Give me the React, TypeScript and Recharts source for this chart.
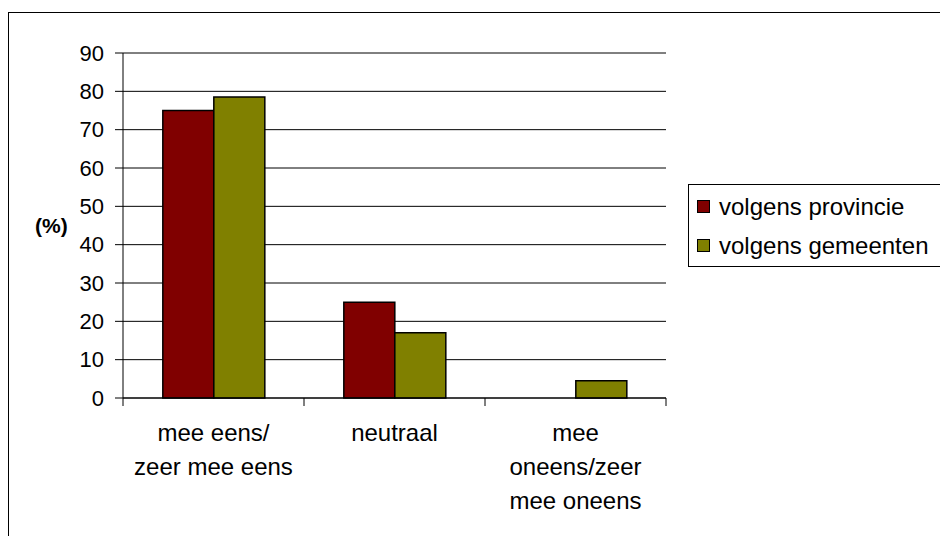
import { BarChart, Bar, XAxis, YAxis, CartesianGrid, Legend } from 'recharts';

const categories = [
  ['mee eens/', 'zeer mee eens'],
  ['neutraal'],
  ['mee', 'oneens/zeer', 'mee oneens'],
];
const provincie = [75, 25, 0];
const gemeenten = [78.5, 17, 4.5];
const yTicks = [0, 10, 20, 30, 40, 50, 60, 70, 80, 90];

const seriesNames = ['volgens provincie', 'volgens gemeenten'];
const seriesColors = ['#800000', '#808000'];

const data = categories.map((lines, i) => ({
  name: lines.join(' '),
  provincie: provincie[i],
  gemeenten: gemeenten[i],
}));

const FONT = '"Liberation Sans", Arial, sans-serif';

// category label, plus the tick marks that sit between the categories
function CategoryTick(props: any) {
  const { x, y, index, payload } = props;
  const half = 90.5;
  const lines = categories[index] || [payload.value];
  return (
    <g>
      <line x1={x - half} y1={y} x2={x - half} y2={y + 8} stroke="#000" />
      {index === categories.length - 1 && (
        <line x1={x + half} y1={y} x2={x + half} y2={y + 8} stroke="#000" />
      )}
      <text x={x} y={y + 43} textAnchor="middle" fontSize={24} fontFamily={FONT} fill="#000">
        {lines.map((l: string, i: number) => (
          <tspan key={i} x={x} dy={i === 0 ? 0 : 34}>
            {l}
          </tspan>
        ))}
      </text>
    </g>
  );
}

function LegendBox() {
  return (
    <div
      style={{
        border: '1px solid #000',
        width: 270,
        height: 83,
        boxSizing: 'border-box',
        fontFamily: FONT,
        fontSize: 24,
        background: '#fff',
      }}
    >
      {seriesNames.map((name, i) => (
        <div key={name} style={{ display: 'flex', alignItems: 'center', height: 39, marginTop: i === 0 ? 2 : 0 }}>
          <span
            style={{
              display: 'inline-block',
              width: 11,
              height: 11,
              marginLeft: 8,
              marginRight: 9,
              background: seriesColors[i],
              border: '1.5px solid #000',
            }}
          />
          <span>{name}</span>
        </div>
      ))}
    </div>
  );
}

export default function App() {
  return (
    <div style={{ position: 'absolute', left: 0, top: 0, width: 940, height: 536, overflow: 'hidden', background: '#fff' }}>
      <div
        style={{
          position: 'absolute',
          left: 8,
          top: 12,
          width: 1000,
          height: 600,
          border: '1px solid #000',
        }}
      />
      <div style={{ position: 'absolute', left: 0, top: 0 }}>
        <BarChart
          width={940}
          height={536}
          data={data}
          margin={{ top: 53, right: 274, bottom: 78, left: 53 }}
          barCategoryGap="22%"
          barGap={0}
        >
          <CartesianGrid vertical={false} stroke="#000" />
          <XAxis
            dataKey="name"
            height={60}
            axisLine={{ stroke: '#000' }}
            tickLine={false}
            tickSize={0}
            tickMargin={0}
            interval={0}
            tick={<CategoryTick />}
          />
          <YAxis
            width={70}
            domain={[0, 90]}
            ticks={yTicks}
            interval={0}
            axisLine={{ stroke: '#000' }}
            tickLine={{ stroke: '#000' }}
            tickSize={8}
            tickMargin={11}
            tick={{ fill: '#000', fontSize: 22, fontFamily: FONT }}
            label={{
              value: '(%)',
              position: 'insideLeft',
              offset: -18,
              fill: '#000',
              fontSize: 21,
              fontWeight: 'bold',
              fontFamily: FONT,
            }}
          />
          <Legend
            layout="vertical"
            align="center"
            verticalAlign="middle"
            content={<LegendBox />}
            wrapperStyle={{ left: 688, top: 184, width: 270, height: 83 }}
          />
          <Bar
            dataKey="provincie"
            name={seriesNames[0]}
            fill={seriesColors[0]}
            stroke="#000"
            strokeWidth={1.5}
            isAnimationActive={false}
          />
          <Bar
            dataKey="gemeenten"
            name={seriesNames[1]}
            fill={seriesColors[1]}
            stroke="#000"
            strokeWidth={1.5}
            isAnimationActive={false}
          />
        </BarChart>
      </div>
    </div>
  );
}
